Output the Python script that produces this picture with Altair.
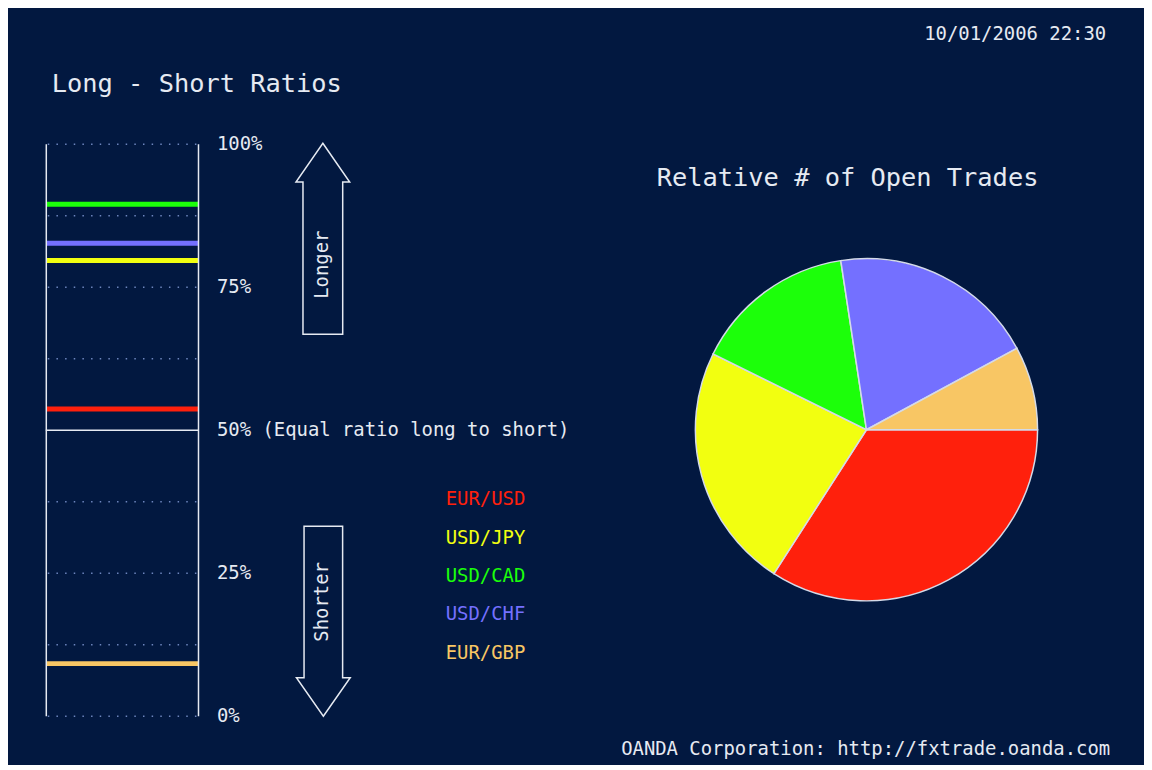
import math
import altair as alt
import pandas as pd

# ---- data ----
pairs = ["EUR/USD", "USD/JPY", "USD/CAD", "USD/CHF", "EUR/GBP"]
long_pct = [53.7, 79.7, 89.5, 82.7, 9.2]          # % of positions long
open_share = [34.1, 23.2, 15.3, 19.5, 7.9]        # relative # of open trades
palette = ["#FF200C", "#F2FF10", "#1CFF0A", "#7470FF", "#F8C664"]

tick_values = [100, 75, 50, 25, 0]
tick_labels = ["100%", "75%", "50% (Equal ratio long to short)", "25%", "0%"]
grid_values = [0, 12.5, 25, 37.5, 62.5, 75, 87.5, 100]

BG = "#021840"
FG = "#E6EAF2"
FONT = "DejaVu Sans Mono"

ratios = pd.DataFrame({"pair": pairs, "long": long_pct, "idx": list(range(len(pairs)))})
shares = pd.DataFrame({"pair": pairs, "share": open_share, "k": list(range(len(pairs)))})
ticks = pd.DataFrame({"v": tick_values, "label": tick_labels})
grid = pd.DataFrame({"v": grid_values})
mid = pd.DataFrame({"v": [50]})
one = pd.DataFrame({"k": [0]})

yscale = alt.Scale(domain=[0, 100], range=[710, 135])
cscale = alt.Scale(domain=pairs, range=palette)

def Y(field):
    return alt.Y(field, type="quantitative", scale=yscale, axis=None)

grid_layer = alt.Chart(grid).mark_rule(
    color="#6E86BE", strokeWidth=1.4, strokeDash=[1.5, 7.2]
).encode(x=alt.value(40), x2=alt.value(190), y=Y("v"))

mid_layer = alt.Chart(mid).mark_rule(color=FG, strokeWidth=1.5).encode(
    x=alt.value(38), x2=alt.value(192), y=Y("v"))

ratio_layer = alt.Chart(ratios).mark_rule(strokeWidth=5).encode(
    x=alt.value(39), x2=alt.value(191), y=Y("long"),
    color=alt.Color("pair:N", scale=cscale, legend=None))

left_border = alt.Chart(one).mark_rule(color=FG, strokeWidth=1.5).encode(
    x=alt.value(38.5), y=alt.value(135), y2=alt.value(710))
right_border = alt.Chart(one).mark_rule(color=FG, strokeWidth=1.5).encode(
    x=alt.value(191.5), y=alt.value(135), y2=alt.value(710))

tick_text = alt.Chart(ticks).mark_text(
    align="left", baseline="middle", font=FONT, fontSize=19, color=FG
).encode(x=alt.value(210), y=Y("v"), text="label:N")

legend_text = alt.Chart(ratios).mark_text(
    align="left", baseline="middle", font=FONT, fontSize=19
).encode(
    x=alt.value(440),
    y=alt.Y("idx:Q", scale=alt.Scale(domain=[0, 4], range=[492, 646]), axis=None),
    text="pair:N",
    color=alt.Color("pair:N", scale=cscale, legend=None))

up_path = "M0,-1 L0.281,-0.594 L0.208,-0.594 L0.208,1 L-0.208,1 L-0.208,-0.594 L-0.281,-0.594 Z"
down_path = "M0,1 L0.283,0.595 L0.203,0.595 L0.203,-1 L-0.203,-1 L-0.203,0.595 L-0.283,0.595 Z"

up_arrow = alt.Chart(one).mark_point(
    shape=up_path, filled=False, stroke=FG, strokeWidth=1.5, size=192 * 192, opacity=1
).encode(x=alt.value(316.5), y=alt.value(230))
down_arrow = alt.Chart(one).mark_point(
    shape=down_path, filled=False, stroke=FG, strokeWidth=1.5, size=191 * 191, opacity=1
).encode(x=alt.value(317), y=alt.value(614.5))

longer = alt.Chart(one).mark_text(
    text="Longer", angle=270, align="center", baseline="middle",
    font=FONT, fontSize=19, color=FG
).encode(x=alt.value(316), y=alt.value(256))
shorter = alt.Chart(one).mark_text(
    text="Shorter", angle=270, align="center", baseline="middle",
    font=FONT, fontSize=19, color=FG
).encode(x=alt.value(316), y=alt.value(595))

title_left = alt.Chart(one).mark_text(
    text="Long - Short Ratios", align="left", baseline="alphabetic",
    font=FONT, fontSize=25.5, color=FG
).encode(x=alt.value(44), y=alt.value(82))
date_text = alt.Chart(one).mark_text(
    text="10/01/2006 22:30", align="right", baseline="alphabetic",
    font=FONT, fontSize=19, color=FG
).encode(x=alt.value(1104), y=alt.value(30))
pie_title = alt.Chart(one).mark_text(
    text="Relative # of Open Trades", align="center", baseline="alphabetic",
    font=FONT, fontSize=25.5, color=FG
).encode(x=alt.value(844), y=alt.value(177))
footer = alt.Chart(one).mark_text(
    text="OANDA Corporation: http://fxtrade.oanda.com", align="right",
    baseline="alphabetic", font=FONT, fontSize=19, color=FG
).encode(x=alt.value(1108), y=alt.value(749))

pie = alt.Chart(shares).mark_arc(
    outerRadius=172, stroke="#D4DAE8", strokeWidth=1.5
).encode(
    theta=alt.Theta("share:Q", stack=True,
                    scale=alt.Scale(range=[math.pi / 2, math.pi / 2 + 2 * math.pi])),
    order=alt.Order("k:Q"),
    color=alt.Color("pair:N", scale=cscale, legend=None),
    x=alt.value(863), y=alt.value(422))

chart = alt.layer(
    grid_layer, mid_layer, ratio_layer, left_border, right_border,
    tick_text, legend_text, up_arrow, down_arrow, longer, shorter,
    title_left, date_text, pie_title, footer, pie
).resolve_scale(
    x="independent", y="independent", color="independent", theta="independent"
).properties(
    width=1142, height=757, background=BG, padding=0, autosize="none"
).configure_view(stroke=None, fill=BG)

chart.save("out.html", embed_options={"renderer": "svg", "actions": False})
